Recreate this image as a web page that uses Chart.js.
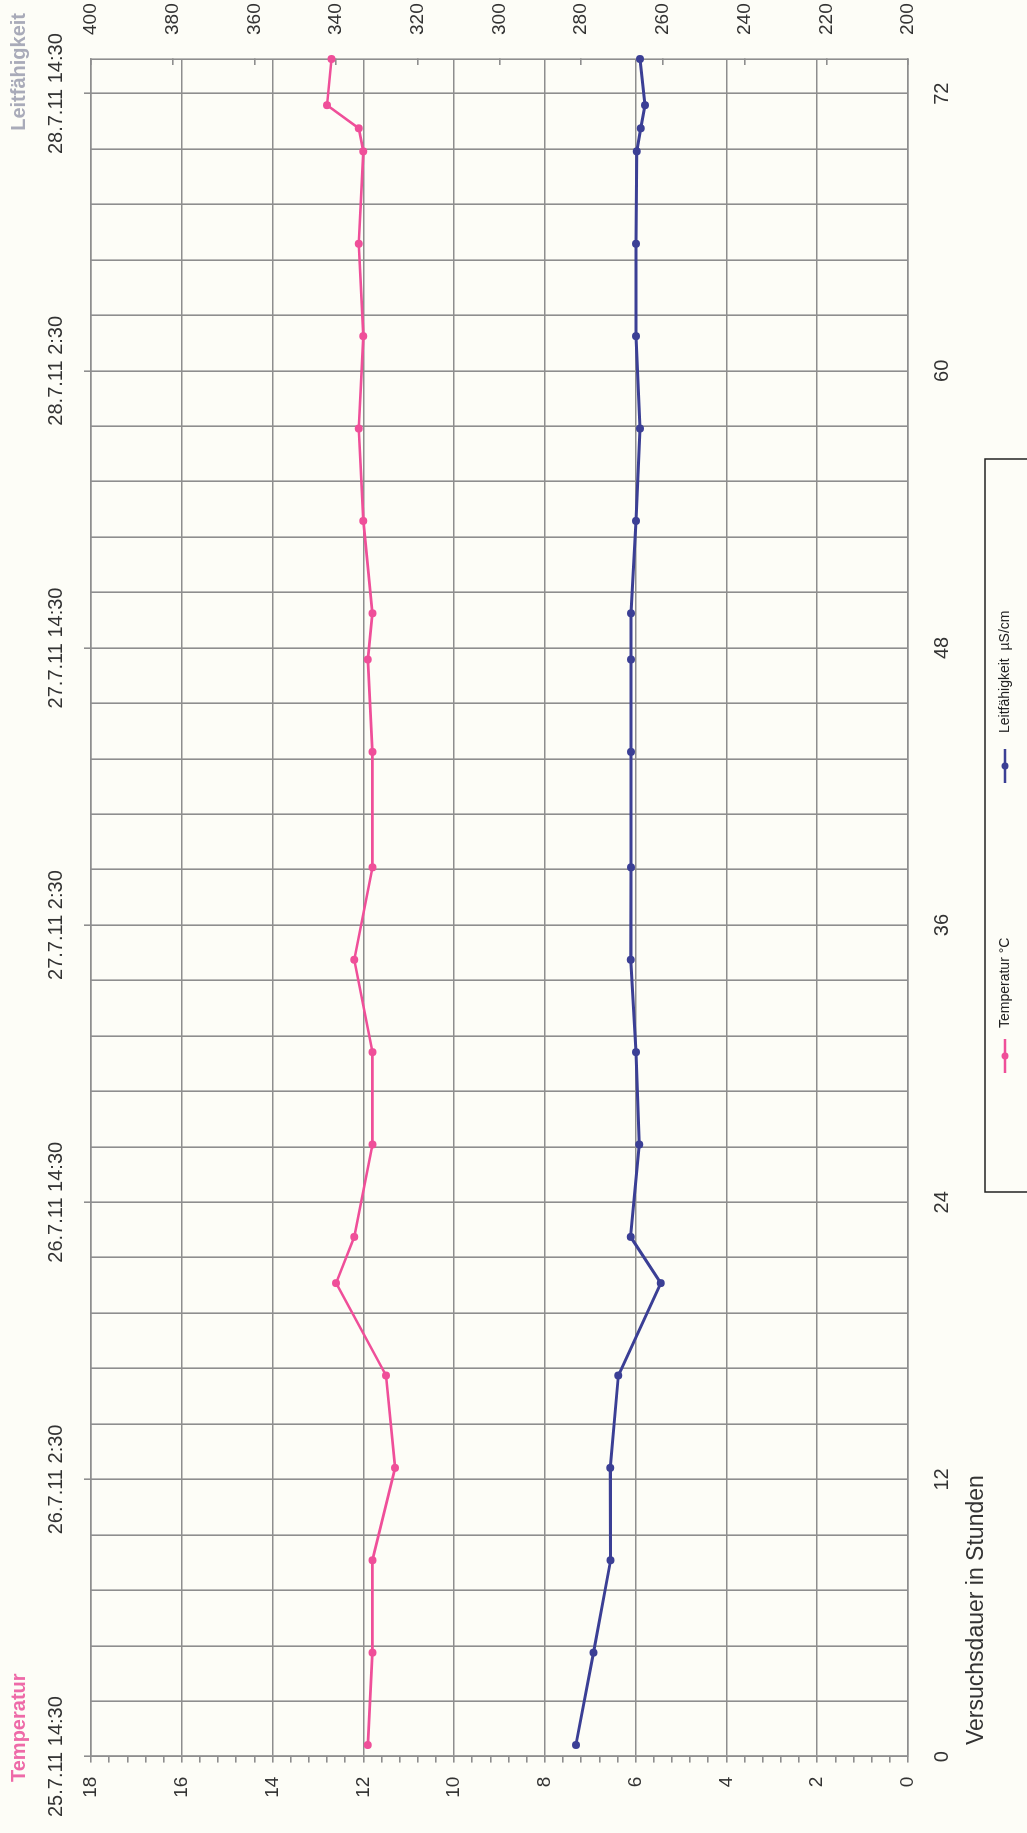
<!DOCTYPE html>
<html>
<head>
<meta charset="utf-8">
<script src="https://cdn.jsdelivr.net/npm/chart.js@4.4.1/dist/chart.umd.min.js"></script>
<style>
  html, body { margin: 0; padding: 0; background: #fdfdf7; overflow: hidden; }
  /* the scanned chart lies on its side, so draw it upright and turn it */
  #wrap { position: absolute; left: 0; top: 0; width: 1833px; height: 1027px;
          transform-origin: 0 0; transform: translate(0, 1833px) rotate(-90deg); }
</style>
</head>
<body>
<div id="wrap"><canvas id="chart" width="1833" height="1027"></canvas></div>
<script>
// measurement times in hours since 25.7.11 14:30
const hours = [0.5, 4.5, 8.5, 12.5, 16.5, 20.5, 22.5, 26.5, 30.5, 34.5, 38.5, 43.5, 47.5, 49.5, 53.5, 57.5, 61.5, 65.5, 69.5, 70.5, 71.5, 73.5];
const temperature = [11.9, 11.8, 11.8, 11.3, 11.5, 12.6, 12.2, 11.8, 11.8, 12.2, 11.8, 11.8, 11.9, 11.8, 12.0, 12.1, 12.0, 12.1, 12.0, 12.1, 12.8, 12.7];
const conductivity = [281.3, 277.0, 272.8, 272.9, 270.9, 260.5, 267.9, 265.8, 266.6, 267.9, 267.8, 267.8, 267.8, 267.8, 266.6, 265.6, 266.6, 266.6, 266.4, 265.4, 264.4, 265.6];

const hourLabels = [0, 12, 24, 36, 48, 60, 72];
const dateLabels = ['25.7.11 14:30', '26.7.11 2:30', '26.7.11 14:30', '27.7.11 2:30', '27.7.11 14:30', '28.7.11 2:30', '28.7.11 14:30'];
const tempLabels = [0, 2, 4, 6, 8, 10, 12, 14, 16, 18];
const condLabels = [200, 220, 240, 260, 280, 300, 320, 340, 360, 380, 400];

const FONT = "'Liberation Sans', Arial, sans-serif";
const GRID = '#8e8e8e';
const PINK = '#ef4f99';
const BLUE = '#3b3f95';

// hour grid every 2.4 h, temperature minor ticks every 0.4 degC
const hourGrid = [];
for (let i = 0; i <= 30; i++) hourGrid.push(i * 12 / 5);
const tempMinor = [];
for (let i = 0; i <= 45; i++) tempMinor.push(i * 2 / 5);

function isTempMajor(v) {
    return tempLabels.some(t => Math.abs(t - v) < 1e-6);
}

const extras = {
    id: 'extras',
    afterDraw(chart) {
        const ctx = chart.ctx;
        ctx.save();
        // axis titles
        ctx.font = 'bold 20px ' + FONT;
        ctx.textBaseline = 'alphabetic';
        ctx.fillStyle = '#ee6aa8';
        ctx.textAlign = 'left';
        ctx.fillText('Temperatur', 51, 25);
        ctx.fillStyle = '#a9abb9';
        ctx.textAlign = 'right';
        ctx.fillText('Leitfähigkeit', 1820, 25);

        ctx.font = '23px ' + FONT;
        ctx.fillStyle = '#333333';
        ctx.textAlign = 'left';
        ctx.textBaseline = 'middle';
        ctx.fillText('Versuchsdauer in Stunden', 88, 977);

        // legend box
        ctx.strokeStyle = '#222222';
        ctx.lineWidth = 1.5;
        ctx.strokeRect(641, 985, 733, 60);
        const items = [
            { x: 760, color: PINK, text: chart.data.datasets[0].label, tx: 805 },
            { x: 1050, color: BLUE, text: chart.data.datasets[1].label, tx: 1100 }
        ];
        ctx.font = '14px ' + FONT;
        items.forEach(it => {
            ctx.strokeStyle = it.color;
            ctx.lineWidth = 2.5;
            ctx.beginPath();
            ctx.moveTo(it.x, 1005);
            ctx.lineTo(it.x + 34, 1005);
            ctx.stroke();
            ctx.fillStyle = it.color;
            ctx.beginPath();
            ctx.arc(it.x + 17, 1005, 3.5, 0, Math.PI * 2);
            ctx.fill();
            ctx.fillStyle = '#222222';
            ctx.fillText(it.text, it.tx, 1005);
        });
        ctx.restore();
    }
};

new Chart(document.getElementById('chart').getContext('2d'), {
    type: 'line',
    data: {
        datasets: [{
            label: 'Temperatur °C',
            data: hours.map((h, i) => ({ x: h, y: temperature[i] })),
            xAxisID: 'x',
            yAxisID: 'y',
            borderColor: PINK,
            backgroundColor: PINK,
            borderWidth: 2.6,
            pointRadius: 4,
            pointBorderWidth: 0,
            tension: 0,
            clip: 8
        }, {
            label: 'Leitfähigkeit  µS/cm',
            data: hours.map((h, i) => ({ x: h, y: conductivity[i] })),
            xAxisID: 'x',
            yAxisID: 'y2',
            borderColor: BLUE,
            backgroundColor: BLUE,
            borderWidth: 3,
            pointRadius: 4,
            pointBorderWidth: 0,
            tension: 0,
            clip: 8
        }]
    },
    options: {
        responsive: false,
        animation: false,
        layout: { padding: 0 },
        plugins: {
            legend: { display: false },
            title: { display: false },
            tooltip: { enabled: false }
        },
        scales: {
            x: {
                type: 'linear',
                position: 'bottom',
                min: 0,
                max: 73.5,
                afterBuildTicks: s => { s.ticks = hourGrid.map(v => ({ value: v })); },
                afterFit: s => { s.height = 119; },
                ticks: {
                    autoSkip: false,
                    maxRotation: 0,
                    padding: 22,
                    color: '#333333',
                    font: { family: FONT, size: 20 },
                    callback: v => hourLabels.includes(v) ? String(v) : ''
                },
                grid: { color: GRID, lineWidth: 1.6, drawTicks: false },
                border: { color: GRID, width: 1.6 }
            },
            x2: {
                type: 'linear',
                position: 'top',
                min: 0,
                max: 73.5,
                afterBuildTicks: s => { s.ticks = hourLabels.map(v => ({ value: v })); },
                afterFit: s => { s.height = 91; },
                ticks: {
                    autoSkip: false,
                    maxRotation: 0,
                    padding: 16,
                    color: '#333333',
                    font: { family: FONT, size: 20 },
                    callback: (v, i) => dateLabels[i]
                },
                grid: { drawOnChartArea: false, color: GRID, lineWidth: 1.6, tickLength: 7 },
                border: { color: GRID, width: 1.6 }
            },
            y: {
                type: 'linear',
                position: 'left',
                min: 0,
                max: 18,
                afterBuildTicks: s => { s.ticks = tempMinor.map(v => ({ value: v })); },
                afterFit: s => { s.width = 70; },
                ticks: {
                    autoSkip: false,
                    padding: 14,
                    color: '#333333',
                    font: { family: FONT, size: 19 },
                    callback: v => isTempMajor(v) ? String(Math.round(v)) : ''
                },
                grid: {
                    color: c => isTempMajor(c.tick.value) ? GRID : 'rgba(0,0,0,0)',
                    tickColor: GRID,
                    lineWidth: 1.6,
                    tickLength: 6
                },
                border: { color: GRID, width: 1.6 }
            },
            y2: {
                type: 'linear',
                position: 'right',
                min: 200,
                max: 400,
                afterBuildTicks: s => { s.ticks = condLabels.map(v => ({ value: v })); },
                afterFit: s => { s.width = 59; },
                ticks: {
                    autoSkip: false,
                    padding: 30,
                    color: '#333333',
                    font: { family: FONT, size: 19 }
                },
                // short tick marks pointing into the plot
                grid: { drawOnChartArea: false, color: GRID, lineWidth: 1.6, tickLength: -6 },
                border: { color: GRID, width: 1.6 }
            }
        }
    },
    plugins: [extras]
});
</script>
</body>
</html>
